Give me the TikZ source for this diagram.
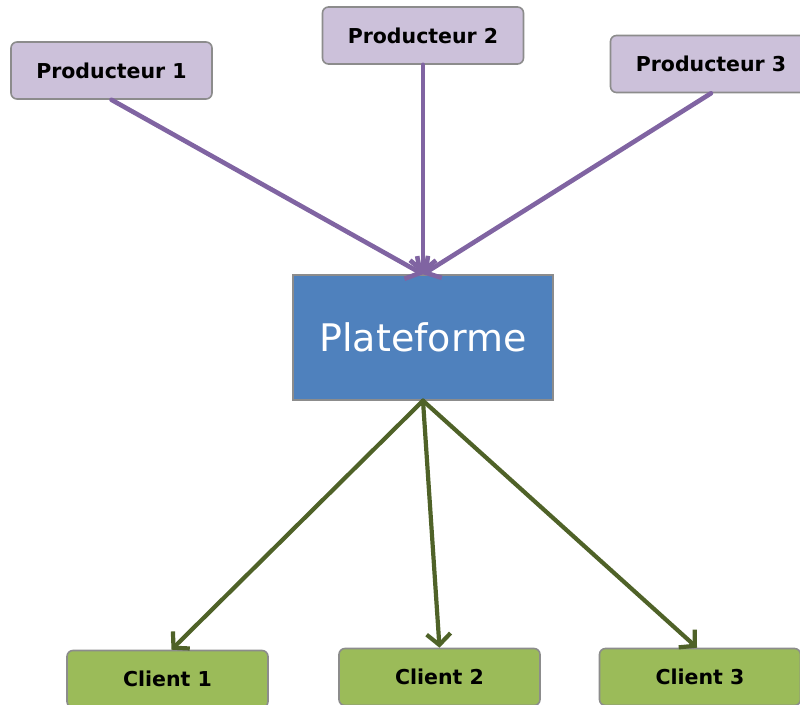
\documentclass[tikz,border=0pt]{standalone}
\usepackage{fontspec}
\setmainfont{DejaVu Sans}
\usetikzlibrary{arrows.meta}
\definecolor{prodfill}{HTML}{CCC1DA}
\definecolor{platfill}{HTML}{4F81BD}
\definecolor{clifill}{HTML}{9BBB59}
\definecolor{purplearrow}{HTML}{8064A2}
\definecolor{greenarrow}{HTML}{4F6228}
\definecolor{boxborder}{HTML}{8C8C8C}
\tikzset{
  prodbox/.style={draw=boxborder, line width=1.6pt, fill=prodfill, rounded corners=6pt,
    minimum width=201pt, minimum height=57pt, inner sep=0pt,
    font=\fontsize{20.5}{24}\selectfont\bfseries},
  clibox/.style={draw=boxborder, line width=1.6pt, fill=clifill, rounded corners=6pt,
    minimum width=201pt, minimum height=57pt, inner sep=0pt,
    font=\fontsize{20.5}{24}\selectfont\bfseries},
  platbox/.style={draw=boxborder, line width=1.4pt, fill=platfill, text=white,
    minimum width=260pt, minimum height=125pt, inner sep=0pt,
    font=\fontsize{38}{44}\selectfont},
  prodarrow/.style={draw=purplearrow, line width=4.6pt, line cap=round,
    -{Straight Barb[length=11pt,width=26pt,line width=4.6pt]}},
  cliarrow/.style={draw=greenarrow, line width=4.2pt, line cap=round,
    -{Straight Barb[length=11pt,width=24pt,line width=4.2pt]}}
}
\begin{document}
\begin{tikzpicture}[x=1pt,y=-1pt]
\useasboundingbox (0,0) rectangle (800,704);
\node[prodbox] (p1) at (111.5,70.5) {Producteur 1};
\node[prodbox] (p2) at (423,35.5) {Producteur 2};
\node[prodbox] (p3) at (711,64) {Producteur 3};
\node[platbox] (plat) at (423,337.5) {Plateforme};
\node[clibox] (c1) at (167.5,679) {Client 1};
\node[clibox] (c2) at (439.5,677) {Client 2};
\node[clibox] (c3) at (700,677) {Client 3};
\draw[prodarrow] (p1.south) -- (plat.north);
\draw[prodarrow] (p2.south) -- (plat.north);
\draw[prodarrow] (p3.south) -- (plat.north);
\draw[cliarrow] (plat.south) -- ([xshift=4pt]c1.north);
\draw[cliarrow] (plat.south) -- (c2.north);
\draw[cliarrow] (plat.south) -- ([xshift=-3pt]c3.north);
\end{tikzpicture}
\end{document}
